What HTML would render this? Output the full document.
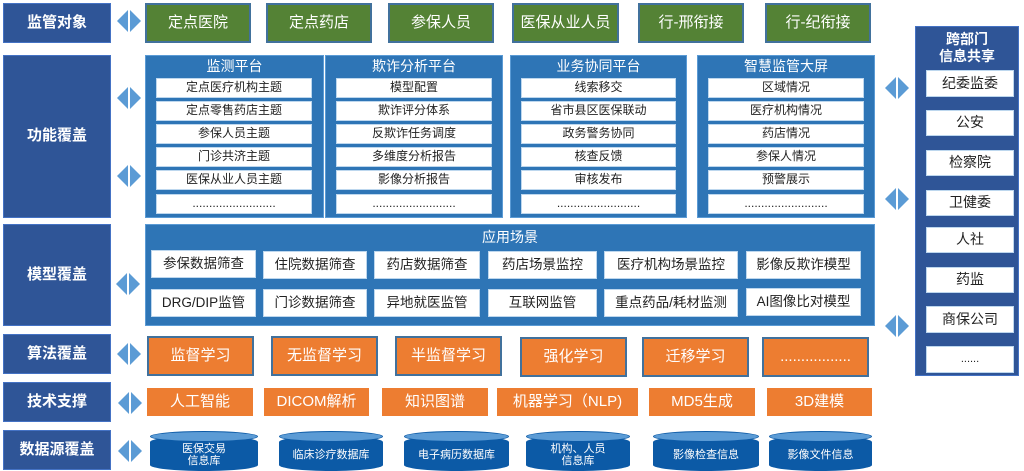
<!DOCTYPE html>
<html><head><meta charset="utf-8"><style>
*{margin:0;padding:0;box-sizing:border-box}
body{width:1024px;height:470px;background:#fff;position:relative;overflow:hidden;font-family:"Liberation Sans","Noto Sans CJK SC",sans-serif}
.a{position:absolute;display:flex;align-items:center;justify-content:center;text-align:center;line-height:1.1}
.L{background:#2f5597;color:#fff;font-weight:bold;font-size:15px;border:1px solid #4472c4}
.G{background:#548235;color:#fff;font-size:15px;border:2px solid #41719c}
.P{background:#2e75b6;border:1px solid #5b9bd5}
.T{color:#fff;font-size:14px;height:18px}
.W{background:#fff;color:#222;font-size:12px;border:1px solid #bdd7ee}
.W2{background:#fff;color:#222;font-size:13.5px;border:1px solid #bdd7ee}
.O{background:#ed7d31;color:#fff;font-size:15px;border:2px solid #41719c}
.O2{background:#ed7d31;color:#fff;font-size:15px}
.R{background:#fff;color:#222;font-size:14px;border:1px solid #bdd7ee}
.arr{position:absolute;width:24px;height:22px}
.cyl{position:absolute;height:40px}
.cyl .b{position:absolute;left:0;right:0;top:5px;bottom:0;background:#0c5aa6;border-radius:50%/6px}
.cyl .t{position:absolute;left:0;right:0;top:0;height:11px;background:#5b9bd5;border-radius:50%;border:1px solid #0c5aa6}
.cyl span{position:absolute;left:0;right:0;top:9px;bottom:0;display:flex;align-items:center;justify-content:center;color:#fff;font-size:11px;line-height:1.05;text-align:center}
</style></head><body>
<svg width="0" height="0" style="position:absolute"><defs><g id="ar"><polygon points="11,0 11,22 0,11" fill="#5b9bd5"/><polygon points="13,0 13,22 24,11" fill="#5b9bd5"/></g></defs></svg>

<div class="a L" style="left:3px;top:3px;width:108px;height:40px">监管对象</div>
<div class="a L" style="left:3px;top:55px;width:108px;height:163px">功能覆盖</div>
<div class="a L" style="left:3px;top:224px;width:108px;height:102px">模型覆盖</div>
<div class="a L" style="left:3px;top:334px;width:108px;height:40px">算法覆盖</div>
<div class="a L" style="left:3px;top:382px;width:108px;height:40px">技术支撑</div>
<div class="a L" style="left:3px;top:430px;width:108px;height:40px">数据源覆盖</div>

<svg class="arr" style="left:117px;top:10px"><use href="#ar"/></svg>
<svg class="arr" style="left:117px;top:87px"><use href="#ar"/></svg>
<svg class="arr" style="left:117px;top:165px"><use href="#ar"/></svg>
<svg class="arr" style="left:116px;top:273px"><use href="#ar"/></svg>
<svg class="arr" style="left:117px;top:343px"><use href="#ar"/></svg>
<svg class="arr" style="left:118px;top:392px"><use href="#ar"/></svg>
<svg class="arr" style="left:118px;top:440px"><use href="#ar"/></svg>
<svg class="arr" style="left:885px;top:77px"><use href="#ar"/></svg>
<svg class="arr" style="left:885px;top:188px"><use href="#ar"/></svg>
<svg class="arr" style="left:885px;top:315px"><use href="#ar"/></svg>

<div class="a G" style="left:145px;top:3px;width:106px;height:40px">定点医院</div>
<div class="a G" style="left:266px;top:3px;width:106px;height:40px">定点药店</div>
<div class="a G" style="left:388px;top:3px;width:106px;height:40px">参保人员</div>
<div class="a G" style="left:512px;top:3px;width:107px;height:40px">医保从业人员</div>
<div class="a G" style="left:638px;top:3px;width:106px;height:40px">行-邢衔接</div>
<div class="a G" style="left:765px;top:3px;width:106px;height:40px">行-纪衔接</div>

<div class="a P" style="left:145px;top:55px;width:179px;height:163px"></div>
<div class="a P" style="left:325px;top:55px;width:178px;height:163px"></div>
<div class="a P" style="left:510px;top:55px;width:177px;height:163px"></div>
<div class="a P" style="left:697px;top:55px;width:178px;height:163px"></div>
<div class="a T" style="left:145px;top:58px;width:179px">监测平台</div>
<div class="a T" style="left:325px;top:58px;width:178px">欺诈分析平台</div>
<div class="a T" style="left:510px;top:58px;width:177px">业务协同平台</div>
<div class="a T" style="left:697px;top:58px;width:178px">智慧监管大屏</div>

<div class="a W" style="left:156px;top:78px;width:156px;height:20px">定点医疗机构主题</div>
<div class="a W" style="left:156px;top:101px;width:156px;height:20px">定点零售药店主题</div>
<div class="a W" style="left:156px;top:124px;width:156px;height:20px">参保人员主题</div>
<div class="a W" style="left:156px;top:147px;width:156px;height:20px">门诊共济主题</div>
<div class="a W" style="left:156px;top:170px;width:156px;height:20px">医保从业人员主题</div>
<div class="a W" style="left:156px;top:194px;width:156px;height:20px">.........................</div>

<div class="a W" style="left:336px;top:78px;width:156px;height:20px">模型配置</div>
<div class="a W" style="left:336px;top:101px;width:156px;height:20px">欺诈评分体系</div>
<div class="a W" style="left:336px;top:124px;width:156px;height:20px">反欺诈任务调度</div>
<div class="a W" style="left:336px;top:147px;width:156px;height:20px">多维度分析报告</div>
<div class="a W" style="left:336px;top:170px;width:156px;height:20px">影像分析报告</div>
<div class="a W" style="left:336px;top:194px;width:156px;height:20px">.........................</div>

<div class="a W" style="left:521px;top:78px;width:155px;height:20px">线索移交</div>
<div class="a W" style="left:521px;top:101px;width:155px;height:20px">省市县区医保联动</div>
<div class="a W" style="left:521px;top:124px;width:155px;height:20px">政务警务协同</div>
<div class="a W" style="left:521px;top:147px;width:155px;height:20px">核查反馈</div>
<div class="a W" style="left:521px;top:170px;width:155px;height:20px">审核发布</div>
<div class="a W" style="left:521px;top:194px;width:155px;height:20px">.........................</div>

<div class="a W" style="left:708px;top:78px;width:156px;height:20px">区域情况</div>
<div class="a W" style="left:708px;top:101px;width:156px;height:20px">医疗机构情况</div>
<div class="a W" style="left:708px;top:124px;width:156px;height:20px">药店情况</div>
<div class="a W" style="left:708px;top:147px;width:156px;height:20px">参保人情况</div>
<div class="a W" style="left:708px;top:170px;width:156px;height:20px">预警展示</div>
<div class="a W" style="left:708px;top:194px;width:156px;height:20px">.........................</div>

<div class="a P" style="left:145px;top:224px;width:730px;height:102px"></div>
<div class="a T" style="left:145px;top:229px;width:730px">应用场景</div>
<div class="a W2" style="left:151px;top:250px;width:105px;height:28px">参保数据筛查</div>
<div class="a W2" style="left:263px;top:251px;width:104px;height:28px">住院数据筛查</div>
<div class="a W2" style="left:374px;top:251px;width:106px;height:28px">药店数据筛查</div>
<div class="a W2" style="left:488px;top:251px;width:109px;height:28px">药店场景监控</div>
<div class="a W2" style="left:604px;top:251px;width:134px;height:28px">医疗机构场景监控</div>
<div class="a W2" style="left:746px;top:251px;width:115px;height:28px">影像反欺诈模型</div>
<div class="a W2" style="left:151px;top:289px;width:105px;height:28px">DRG/DIP监管</div>
<div class="a W2" style="left:263px;top:289px;width:104px;height:28px">门诊数据筛查</div>
<div class="a W2" style="left:374px;top:289px;width:106px;height:28px">异地就医监管</div>
<div class="a W2" style="left:488px;top:289px;width:109px;height:28px">互联网监管</div>
<div class="a W2" style="left:604px;top:289px;width:134px;height:28px">重点药品/耗材监测</div>
<div class="a W2" style="left:746px;top:288px;width:115px;height:28px">AI图像比对模型</div>

<div class="a O" style="left:147px;top:336px;width:107px;height:40px">监督学习</div>
<div class="a O" style="left:271px;top:336px;width:107px;height:40px">无监督学习</div>
<div class="a O" style="left:395px;top:336px;width:107px;height:40px">半监督学习</div>
<div class="a O" style="left:520px;top:337px;width:107px;height:40px">强化学习</div>
<div class="a O" style="left:642px;top:337px;width:107px;height:40px">迁移学习</div>
<div class="a O" style="left:762px;top:337px;width:107px;height:40px">.................</div>

<div class="a O2" style="left:147px;top:388px;width:106px;height:28px">人工智能</div>
<div class="a O2" style="left:264px;top:388px;width:105px;height:28px">DICOM解析</div>
<div class="a O2" style="left:382px;top:388px;width:106px;height:28px">知识图谱</div>
<div class="a O2" style="left:497px;top:388px;width:141px;height:28px">机器学习（NLP)</div>
<div class="a O2" style="left:649px;top:388px;width:106px;height:28px">MD5生成</div>
<div class="a O2" style="left:767px;top:388px;width:105px;height:28px">3D建模</div>

<div class="cyl" style="left:150px;top:431px;width:108px"><div class="b"></div><div class="t"></div><span>医保交易<br>信息库</span></div>
<div class="cyl" style="left:279px;top:431px;width:104px"><div class="b"></div><div class="t"></div><span>临床诊疗数据库</span></div>
<div class="cyl" style="left:404px;top:431px;width:105px"><div class="b"></div><div class="t"></div><span>电子病历数据库</span></div>
<div class="cyl" style="left:526px;top:431px;width:104px"><div class="b"></div><div class="t"></div><span>机构、人员<br>信息库</span></div>
<div class="cyl" style="left:653px;top:431px;width:106px"><div class="b"></div><div class="t"></div><span>影像检查信息</span></div>
<div class="cyl" style="left:769px;top:431px;width:103px"><div class="b"></div><div class="t"></div><span>影像文件信息</span></div>

<div class="a" style="left:915px;top:26px;width:104px;height:350px;background:#2f5597;border:1px solid #4472c4"></div>
<div class="a" style="left:915px;top:30px;width:104px;height:36px;color:#fff;font-weight:bold;font-size:14px;line-height:1.2">跨部门<br>信息共享</div>
<div class="a R" style="left:926px;top:70px;width:88px;height:27px">纪委监委</div>
<div class="a R" style="left:926px;top:110px;width:88px;height:26px">公安</div>
<div class="a R" style="left:926px;top:150px;width:88px;height:26px">检察院</div>
<div class="a R" style="left:926px;top:190px;width:88px;height:26px">卫健委</div>
<div class="a R" style="left:926px;top:227px;width:88px;height:26px">人社</div>
<div class="a R" style="left:926px;top:267px;width:88px;height:26px">药监</div>
<div class="a R" style="left:926px;top:306px;width:88px;height:27px">商保公司</div>
<div class="a R" style="left:926px;top:346px;width:88px;height:27px;font-size:11px">......</div>
</body></html>
